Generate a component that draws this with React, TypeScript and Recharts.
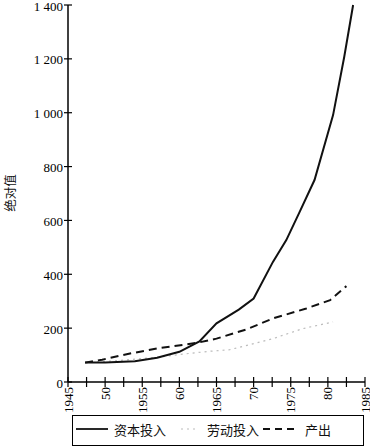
import { LineChart, Line, XAxis, YAxis } from "recharts";

const capitalYears = [1947.3, 1950, 1954, 1957, 1960, 1962.7, 1965, 1968, 1970, 1972.6, 1974.4, 1976.2, 1978.2, 1980.7, 1982.2, 1983.4];
const capitalValues = [72, 72, 77, 90, 112, 151, 218, 269, 310, 446, 527, 632, 750, 991, 1207, 1400];

const laborYears = [1947.3, 1952, 1957, 1961, 1964, 1966.8, 1972.6, 1976.6, 1980.7];
const laborValues = [72, 80, 92, 105, 114, 120, 161, 198, 223];

const outputYears = [1947.3, 1949.6, 1953.2, 1957.3, 1962.3, 1965, 1969, 1972.6, 1977.1, 1980.3, 1982.5];
const outputValues = [72, 83, 105, 126, 145, 161, 195, 236, 273, 304, 356];

const seriesNames = ["资本投入", "劳动投入", "产出"];

const xTicks = [1945, 1947.5, 1950, 1952.5, 1955, 1957.5, 1960, 1962.5, 1965, 1967.5, 1970, 1972.5, 1975, 1977.5, 1980, 1982.5, 1985];
const xTickLabels: Record<number, string> = {
  1945: "1945", 1950: "50", 1955: "1955", 1960: "60", 1965: "1965",
  1970: "70", 1975: "1975", 1980: "80", 1985: "1985",
};
const yTicks = [0, 200, 400, 600, 800, 1000, 1200, 1400];

const toPoints = (xs: number[], ys: number[]) => xs.map((year, i) => ({ year, value: ys[i] }));
const capitalData = toPoints(capitalYears, capitalValues);
const laborData = toPoints(laborYears, laborValues);
const outputData = toPoints(outputYears, outputValues);

const serif = "'Liberation Serif', 'DejaVu Serif', serif";
const cjk = "'Noto Sans CJK SC', sans-serif";

const fmtY = (v: number) => (v >= 1000 ? `${Math.floor(v / 1000)} ${String(v % 1000).padStart(3, "0")}` : String(v));

function XTick({ x, y, payload }: any) {
  const label = xTickLabels[payload.value];
  return (
    <g>
      <line x1={x} x2={x} y1={y - 5} y2={y + 5} stroke="#000" strokeWidth={1.2} />
      {label && (
        <text x={x} y={y + 5} transform={`rotate(-90 ${x} ${y + 5})`} textAnchor="end" dominantBaseline="central"
          fontFamily={serif} fontSize={13} fill="#000">
          {label}
        </text>
      )}
    </g>
  );
}

function YTick({ x, y, payload }: any) {
  return (
    <g>
      <line x1={x - 4} x2={x + 4} y1={y} y2={y} stroke="#000" strokeWidth={1.2} />
      <text x={x - 5} y={y + 1} textAnchor="end" dominantBaseline="central" fontFamily={serif} fontSize={13} fill="#000">
        {fmtY(payload.value)}
      </text>
    </g>
  );
}

function LegendBox() {
  return (
    <div style={{ position: "absolute", left: 72, top: 415, width: 292, height: 31, border: "1.5px solid #000", boxSizing: "border-box" }}>
      <svg width={290} height={28} style={{ display: "block" }}>
        <line x1={3} x2={35} y1={13} y2={13} stroke="#111" strokeWidth={1.8} />
        <text x={41} y={13} dominantBaseline="central" fontFamily={cjk} fontSize={13} fill="#111">{seriesNames[0]}</text>
        <line x1={108} x2={125} y1={13} y2={13} stroke="#bbb" strokeWidth={1.2} strokeDasharray="2 4" />
        <text x={134} y={13} dominantBaseline="central" fontFamily={cjk} fontSize={13} fill="#111">{seriesNames[1]}</text>
        <line x1={190} x2={222} y1={13} y2={13} stroke="#111" strokeWidth={1.8} strokeDasharray="7 5" />
        <text x={232} y={13} dominantBaseline="central" fontFamily={cjk} fontSize={13} fill="#111">{seriesNames[2]}</text>
      </svg>
    </div>
  );
}

export default function App() {
  return (
    <div style={{ position: "absolute", left: 0, top: 0, width: 370, height: 448, background: "#fff" }}>
      <LineChart width={370} height={448} margin={{ top: 5, right: 5, left: 0, bottom: 26 }}>
        <XAxis type="number" dataKey="year" domain={[1945, 1985]} ticks={xTicks} interval={0} allowDuplicatedCategory={false}
          height={40} tickSize={0} tickMargin={0} tickLine={false} tick={<XTick />}
          axisLine={{ stroke: "#000", strokeWidth: 1.5 }} />
        <YAxis type="number" dataKey="value" domain={[0, 1400]} ticks={yTicks} interval={0} width={68}
          tickSize={0} tickMargin={0} tickLine={false} tick={<YTick />}
          axisLine={{ stroke: "#000", strokeWidth: 1.5 }} />
        <Line data={laborData} dataKey="value" name={seriesNames[1]} type="linear" stroke="#bbb" strokeWidth={1.2}
          strokeDasharray="2 4" dot={false} isAnimationActive={false} />
        <Line data={outputData} dataKey="value" name={seriesNames[2]} type="linear" stroke="#111" strokeWidth={2}
          strokeDasharray="8 5" dot={false} isAnimationActive={false} />
        <Line data={capitalData} dataKey="value" name={seriesNames[0]} type="linear" stroke="#111" strokeWidth={2}
          dot={false} isAnimationActive={false} />
      </LineChart>
      <svg width={30} height={80} style={{ position: "absolute", left: 0, top: 153 }}>
        <text x={9} y={40} transform="rotate(-90 9 40)" textAnchor="middle" dominantBaseline="central"
          fontFamily={cjk} fontSize={12.5} fill="#111">绝对值</text>
      </svg>
      <LegendBox />
    </div>
  );
}
